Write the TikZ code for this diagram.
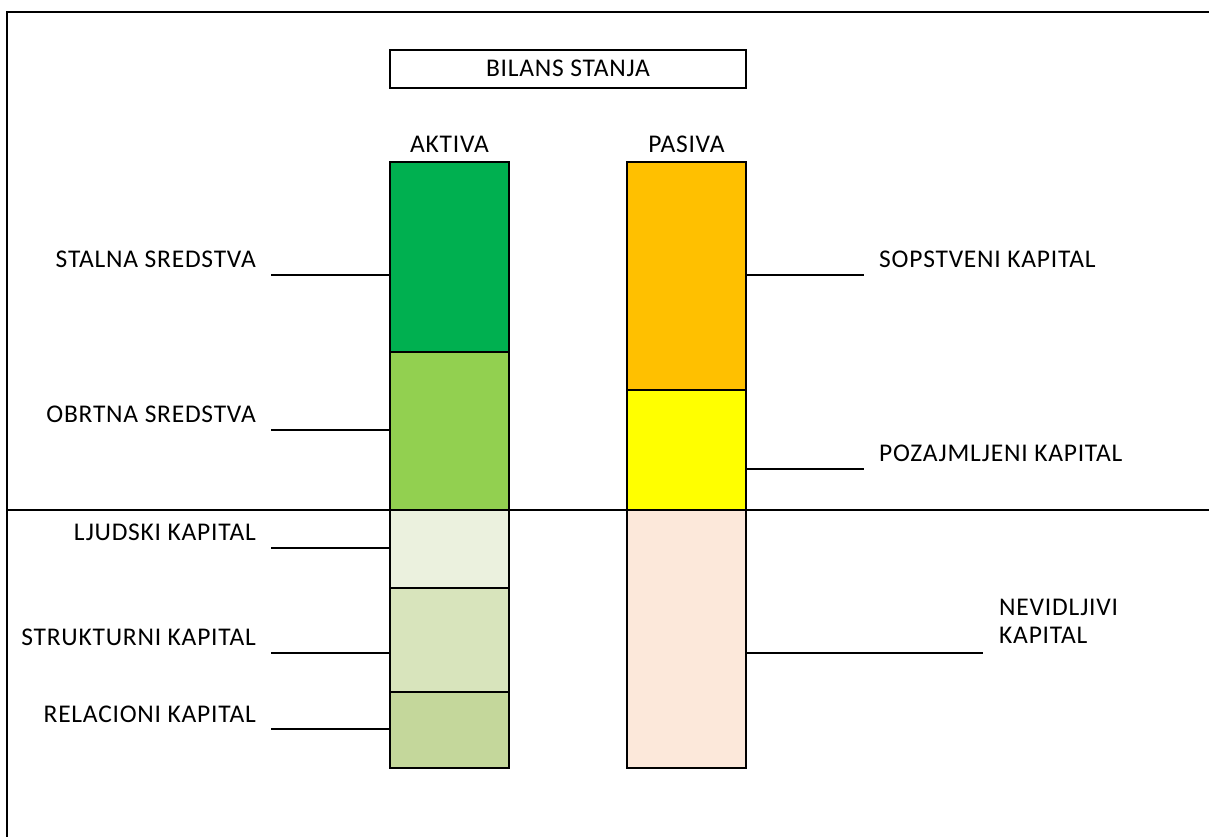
\documentclass[tikz,border=0pt]{standalone}
\usepackage{fontspec}
\setmainfont{Carlito}[LetterSpace=3]
\begin{document}
\begin{tikzpicture}[x=1pt,y=-1pt,
  every node/.style={font=\fontsize{25.5}{28}\selectfont},
  seg/.style={draw=black,line width=1.4pt,minimum width=119pt,inner sep=0pt,outer sep=0pt},
  lbl/.style={inner sep=0pt},
  conn/.style={draw=black,line width=1.4pt},
  frameline/.style={draw=black,line width=2.3pt}]
\definecolor{cStalna}{HTML}{00B050}
\definecolor{cObrtna}{HTML}{92D050}
\definecolor{cLjudski}{HTML}{EBF1DE}
\definecolor{cStrukt}{HTML}{D8E4BC}
\definecolor{cRelac}{HTML}{C4D79B}
\definecolor{cSopst}{HTML}{FFC000}
\definecolor{cPozaj}{HTML}{FFFF00}
\definecolor{cNevid}{HTML}{FCE8DA}
\useasboundingbox (0,0) rectangle (1209,837);

% outer frame (left and top sides)
\draw[frameline] (7,837) -- (7,12) -- (1209,12);

% title
\node[draw=black,line width=1.4pt,minimum width=356pt,minimum height=38pt,
      text height=16pt,text depth=0pt,inner sep=0pt] (title) at (568,69) {BILANS STANJA};
\node[lbl,anchor=base] (aktiva) at (449.5,153) {AKTIVA};
\node[lbl,anchor=base] (pasiva) at (686.5,153) {PASIVA};

% aktiva column
\node[seg,fill=cStalna,minimum height=190pt] (sStalna) at (449.5,257) {};
\node[seg,fill=cObrtna,minimum height=158pt] (sObrtna) at (449.5,431) {};
\node[seg,fill=cLjudski,minimum height=78pt] (sLjudski) at (449.5,549) {};
\node[seg,fill=cStrukt,minimum height=104pt] (sStrukt) at (449.5,640) {};
\node[seg,fill=cRelac,minimum height=76pt] (sRelac) at (449.5,730) {};

% pasiva column
\node[seg,fill=cSopst,minimum height=228pt] (sSopst) at (686.5,276) {};
\node[seg,fill=cPozaj,minimum height=120pt] (sPozaj) at (686.5,450) {};
\node[seg,fill=cNevid,minimum height=258pt] (sNevid) at (686.5,639) {};

% divider between balance sheet and intangible capital
\draw[frameline] (7,510) -- (1209,510);

% left labels and connectors
\node[lbl,anchor=base east] (tStalna) at (256,267) {STALNA SREDSTVA};
\node[lbl,anchor=base east] (tObrtna) at (256,422) {OBRTNA SREDSTVA};
\node[lbl,anchor=base east] (tLjudski) at (256,540) {LJUDSKI KAPITAL};
\node[lbl,anchor=base east] (tStrukt) at (256,645) {STRUKTURNI KAPITAL};
\node[lbl,anchor=base east] (tRelac) at (256,722) {RELACIONI KAPITAL};
\coordinate (eStalna) at (271,275);
\coordinate (eObrtna) at (271,430);
\coordinate (eLjudski) at (271,548);
\coordinate (eStrukt) at (271,653);
\coordinate (eRelac) at (271,729);
\draw[conn] (eStalna) -- (eStalna -| sStalna.west);
\draw[conn] (eObrtna) -- (eObrtna -| sObrtna.west);
\draw[conn] (eLjudski) -- (eLjudski -| sLjudski.west);
\draw[conn] (eStrukt) -- (eStrukt -| sStrukt.west);
\draw[conn] (eRelac) -- (eRelac -| sRelac.west);

% right labels and connectors
\node[lbl,anchor=base west] (tSopst) at (879,267) {SOPSTVENI KAPITAL};
\node[lbl,anchor=base west] (tPozaj) at (879,461) {POZAJMLJENI KAPITAL};
\node[lbl,anchor=base west,align=left] (tNevid) at (999,643) {NEVIDLJIVI\\KAPITAL};
\coordinate (eSopst) at (864,275);
\coordinate (ePozaj) at (864,469);
\coordinate (eNevid) at (983,653);
\draw[conn] (sSopst.east |- eSopst) -- (eSopst);
\draw[conn] (sPozaj.east |- ePozaj) -- (ePozaj);
\draw[conn] (sNevid.east |- eNevid) -- (eNevid);
\end{tikzpicture}
\end{document}
